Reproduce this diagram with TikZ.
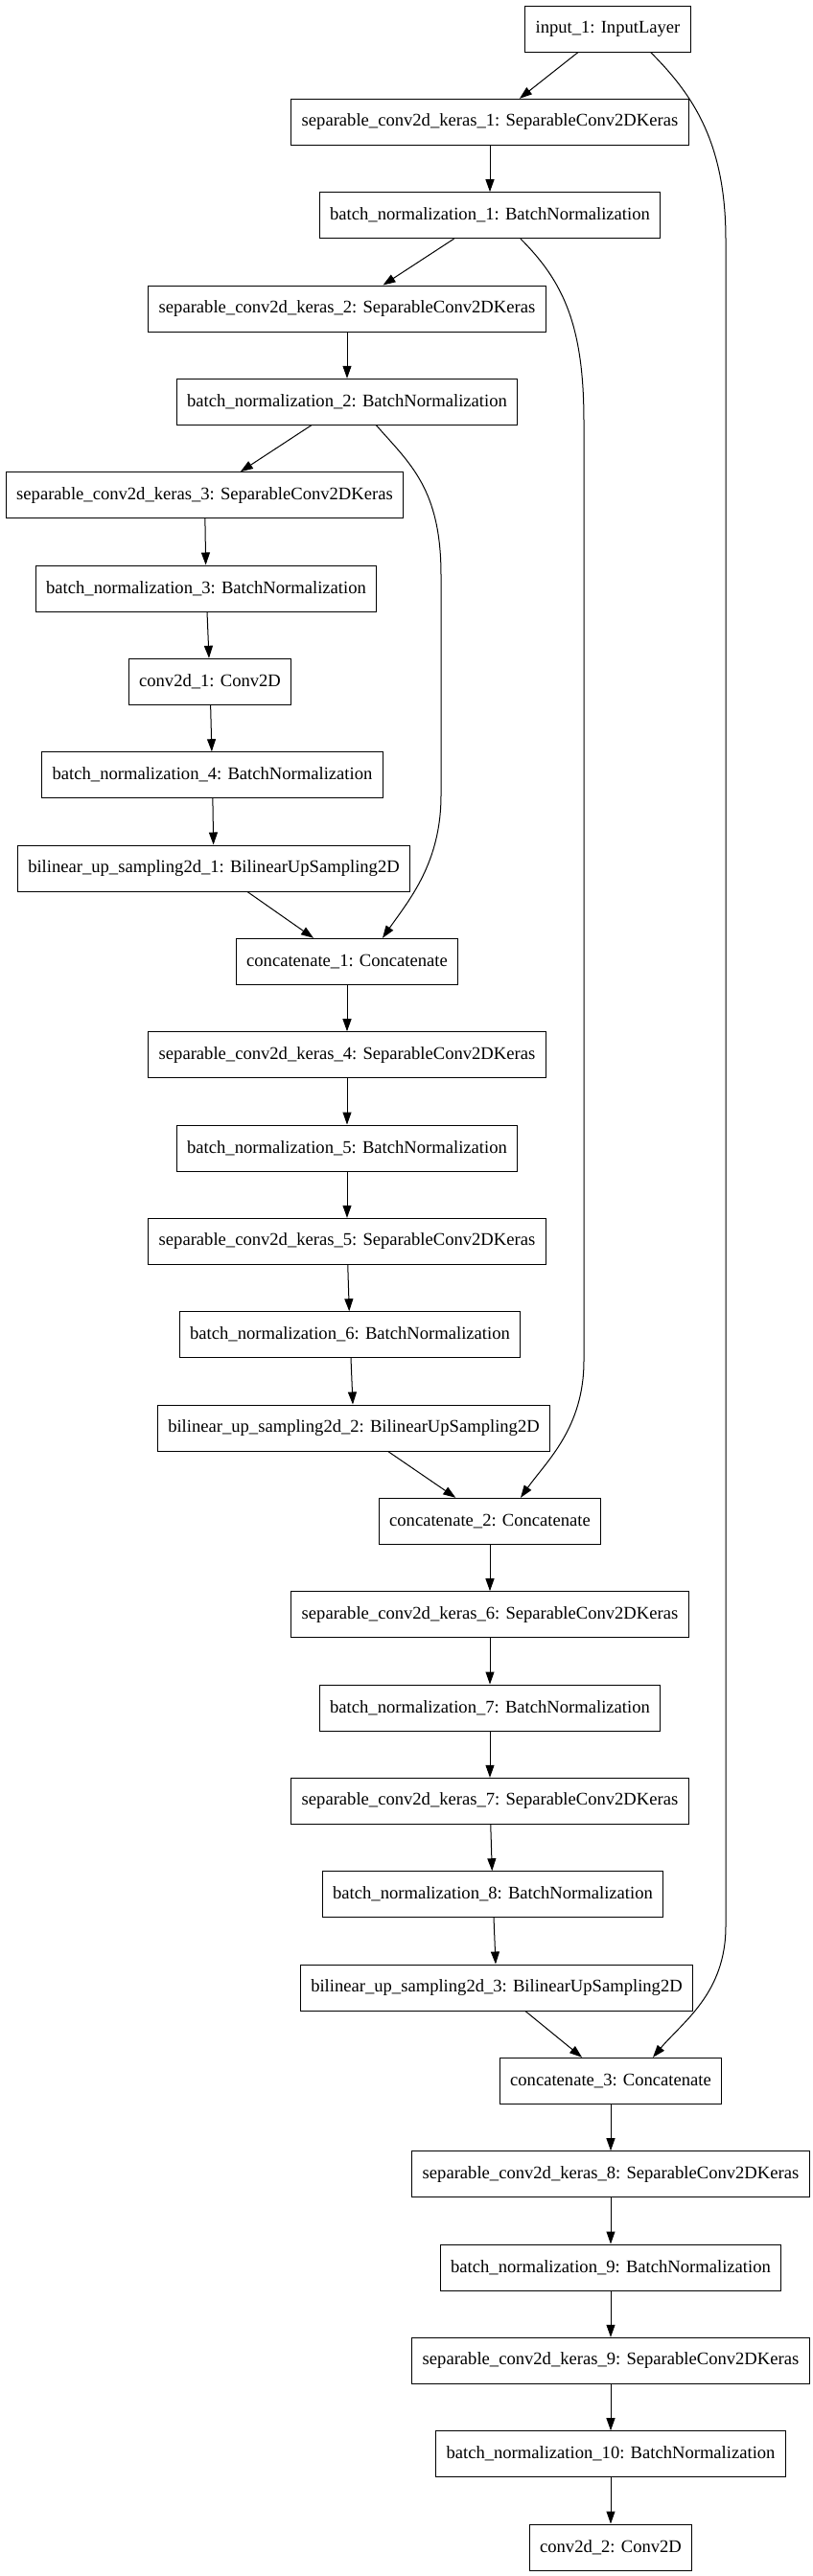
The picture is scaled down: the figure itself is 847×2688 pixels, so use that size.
\documentclass[tikz,border=0pt]{standalone}
\usepackage{fontspec}
\setmainfont{Liberation Serif}
\usetikzlibrary{arrows.meta}

\begin{document}
\begin{tikzpicture}[
            x = 1pt, y = -1pt, % pixel units, y grows downwards
            > = {Triangle[length=13pt, width=9pt]}, % arrow head style
            line width = 1pt % line style
        ]

        \tikzstyle{layer}=[
            draw = black,
            fill = white,
            minimum height = 48pt,
            inner xsep = 11pt,
            font = \fontsize{18.6}{21}\selectfont
        ]
    \useasboundingbox (0, 0) rectangle (847, 2688);

    % Define the nodes and their positions
    \node[layer] (in1) at (634, 30) {input\_1: InputLayer};
    \node[layer] (sc1) at (511, 127.3) {separable\_conv2d\_keras\_1: SeparableConv2DKeras};
    \node[layer] (bn1) at (511, 224.7) {batch\_normalization\_1: BatchNormalization};
    \node[layer] (sc2) at (362, 322) {separable\_conv2d\_keras\_2: SeparableConv2DKeras};
    \node[layer] (bn2) at (362, 419.3) {batch\_normalization\_2: BatchNormalization};
    \node[layer] (sc3) at (213.5, 516.7) {separable\_conv2d\_keras\_3: SeparableConv2DKeras};
    \node[layer] (bn3) at (215, 614) {batch\_normalization\_3: BatchNormalization};
    \node[layer] (cv1) at (219, 711.3) {conv2d\_1: Conv2D};
    \node[layer] (bn4) at (221.5, 808.7) {batch\_normalization\_4: BatchNormalization};
    \node[layer] (up1) at (223, 906) {bilinear\_up\_sampling2d\_1: BilinearUpSampling2D};
    \node[layer] (cat1) at (362, 1003.3) {concatenate\_1: Concatenate};
    \node[layer] (sc4) at (362, 1100.7) {separable\_conv2d\_keras\_4: SeparableConv2DKeras};
    \node[layer] (bn5) at (362, 1198) {batch\_normalization\_5: BatchNormalization};
    \node[layer] (sc5) at (362, 1295.3) {separable\_conv2d\_keras\_5: SeparableConv2DKeras};
    \node[layer] (bn6) at (365, 1392.7) {batch\_normalization\_6: BatchNormalization};
    \node[layer] (up2) at (369, 1490) {bilinear\_up\_sampling2d\_2: BilinearUpSampling2D};
    \node[layer] (cat2) at (511, 1587.3) {concatenate\_2: Concatenate};
    \node[layer] (sc6) at (511, 1684.7) {separable\_conv2d\_keras\_6: SeparableConv2DKeras};
    \node[layer] (bn7) at (511, 1782) {batch\_normalization\_7: BatchNormalization};
    \node[layer] (sc7) at (511, 1879.3) {separable\_conv2d\_keras\_7: SeparableConv2DKeras};
    \node[layer] (bn8) at (514, 1976.7) {batch\_normalization\_8: BatchNormalization};
    \node[layer] (up3) at (518, 2074) {bilinear\_up\_sampling2d\_3: BilinearUpSampling2D};
    \node[layer] (cat3) at (637, 2171.3) {concatenate\_3: Concatenate};
    \node[layer] (sc8) at (637, 2268.7) {separable\_conv2d\_keras\_8: SeparableConv2DKeras};
    \node[layer] (bn9) at (637, 2366) {batch\_normalization\_9: BatchNormalization};
    \node[layer] (sc9) at (637, 2463.3) {separable\_conv2d\_keras\_9: SeparableConv2DKeras};
    \node[layer] (bn10) at (637, 2560.7) {batch\_normalization\_10: BatchNormalization};
    \node[layer] (cv2) at (637, 2658) {conv2d\_2: Conv2D};

    % Draw edges between nodes
    \path[->] (in1) edge (sc1);
    \path[->] (sc1) edge (bn1);
    \path[->] (bn1) edge (sc2);
    \path[->] (sc2) edge (bn2);
    \path[->] (bn2) edge (sc3);
    \path[->] (sc3) edge (bn3);
    \path[->] (bn3) edge (cv1);
    \path[->] (cv1) edge (bn4);
    \path[->] (bn4) edge (up1);
    \path[->] (up1) edge (cat1);
    \path[->] (cat1) edge (sc4);
    \path[->] (sc4) edge (bn5);
    \path[->] (bn5) edge (sc5);
    \path[->] (sc5) edge (bn6);
    \path[->] (bn6) edge (up2);
    \path[->] (up2) edge (cat2);
    \path[->] (cat2) edge (sc6);
    \path[->] (sc6) edge (bn7);
    \path[->] (bn7) edge (sc7);
    \path[->] (sc7) edge (bn8);
    \path[->] (bn8) edge (up3);
    \path[->] (up3) edge (cat3);
    \path[->] (cat3) edge (sc8);
    \path[->] (sc8) edge (bn9);
    \path[->] (bn9) edge (sc9);
    \path[->] (sc9) edge (bn10);
    \path[->] (bn10) edge (cv2);

    % skip connections
    \draw[->] ([xshift=30.5pt]bn2.south) .. controls +(35, 40) and +(0, -90) .. (460, 600)
        -- (460, 830) .. controls +(0, 70) and +(28, -40) .. ([xshift=37pt]cat1.north);
    \draw[->] ([xshift=32pt]bn1.south) .. controls +(45, 45) and +(0, -100) .. (609, 440)
        -- (609, 1420) .. controls +(0, 70) and +(27, -38) .. ([xshift=32pt]cat2.north);
    \draw[->] ([xshift=44.6pt]in1.south) .. controls +(45, 45) and +(0, -100) .. (757, 250)
        -- (757, 2010) .. controls +(0, 70) and +(31, -37) .. ([xshift=44pt]cat3.north);
\end{tikzpicture}
\end{document}
